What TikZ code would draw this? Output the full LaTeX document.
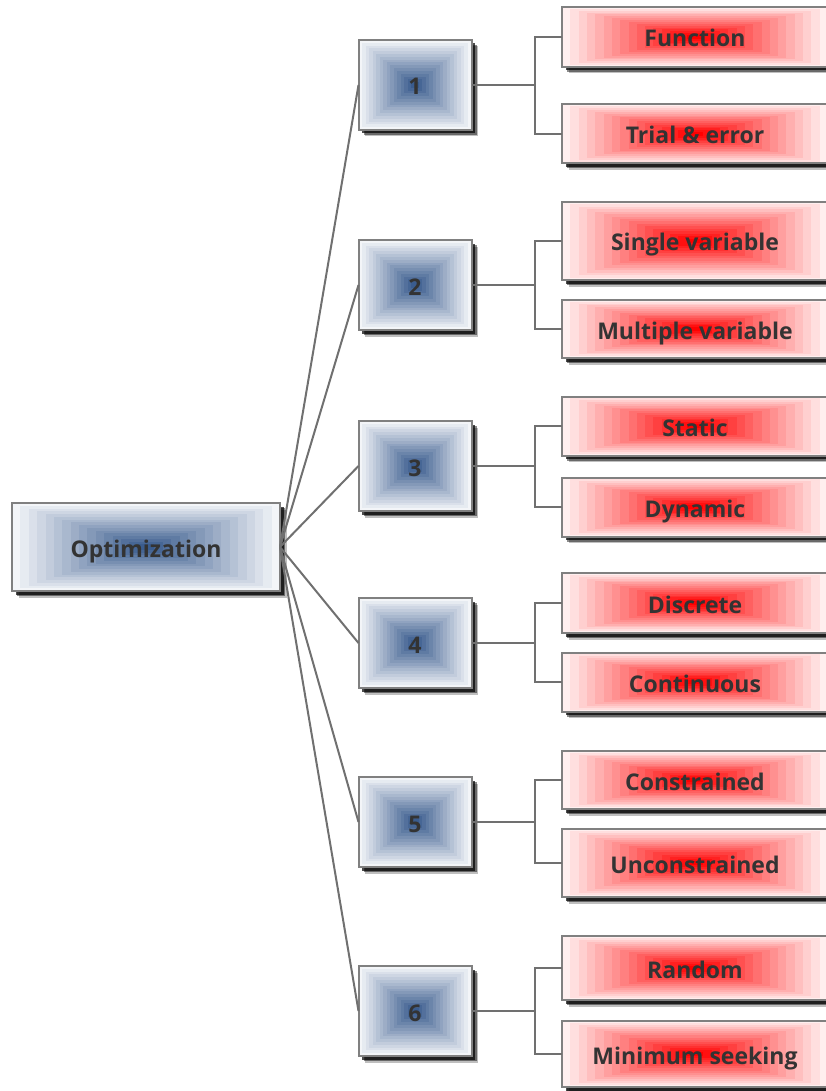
\documentclass[tikz,border=0pt]{standalone}
\usepackage{fontspec}
\setmainfont{Open Sans}
\usetikzlibrary{calc,shadows}

\definecolor{edgegray}{RGB}{128,128,128}
\definecolor{linegray}{RGB}{112,112,112}
\definecolor{txt}{RGB}{51,51,51}
\definecolor{steel}{RGB}{58,92,142}
\definecolor{hotred}{RGB}{255,0,0}

\tikzset{
  % nested rectangles, light at the rim and saturated in the middle
  ringfill/.style={path picture={
    \foreach \i in {0,...,15}{
      \pgfmathsetmacro\ringpct{100*(\i+1)/16}
      \fill[#1!\ringpct!white]
        ($(path picture bounding box.south west)!{\i/32}!(path picture bounding box.north east)$)
        rectangle
        ($(path picture bounding box.north east)!{\i/32}!(path picture bounding box.south west)$);
    }}},
  boxshadow/.style={
    drop shadow={shadow xshift=6.5pt, shadow yshift=-6.5pt, fill=black, opacity=0.25},
    drop shadow={shadow xshift=5pt, shadow yshift=-5pt, fill=black, opacity=0.45},
    drop shadow={shadow xshift=3.5pt, shadow yshift=-3.5pt, fill=black, opacity=0.7}},
  basebox/.style={draw=edgegray, line width=2pt, inner sep=0pt, outer sep=0pt,
    text=txt, font=\bfseries\fontsize{23}{27}\selectfont,
    text height=20pt, text depth=0pt, boxshadow},
  hubbox/.style={basebox, ringfill=steel},
  leafbox/.style={basebox, ringfill=hotred, minimum width=266pt},
  numbox/.style={hubbox, minimum width=113pt, minimum height=90pt},
  link/.style={draw=linegray, line width=2pt},
}

\begin{document}
\begin{tikzpicture}[x=1pt, y=-1pt]
\useasboundingbox (0,0) rectangle (825,1091);

% root
\node[hubbox, minimum width=268pt, minimum height=88pt] (opt) at (146,547) {Optimization};

% numbered categories
\node[numbox] (n1) at (415,85)   {1};
\node[numbox] (n2) at (415,285)  {2};
\node[numbox] (n3) at (415,466)  {3};
\node[numbox] (n4) at (415,643)  {4};
\node[numbox] (n5) at (415,822)  {5};
\node[numbox] (n6) at (415,1011) {6};

% leaves
\node[leafbox, minimum height=60pt] (f1a) at (695,37)   {Function};
\node[leafbox, minimum height=59pt] (f1b) at (695,134)  {Trial \& error};
\node[leafbox, minimum height=78pt] (f2a) at (695,241)  {Single variable};
\node[leafbox, minimum height=58pt] (f2b) at (695,329)  {Multiple variable};
\node[leafbox, minimum height=59pt] (f3a) at (695,426)  {Static};
\node[leafbox, minimum height=59pt] (f3b) at (695,507)  {Dynamic};
\node[leafbox, minimum height=60pt] (f4a) at (695,603)  {Discrete};
\node[leafbox, minimum height=59pt] (f4b) at (695,682)  {Continuous};
\node[leafbox, minimum height=58pt] (f5a) at (695,780)  {Constrained};
\node[leafbox, minimum height=68pt] (f5b) at (695,863)  {Unconstrained};
\node[leafbox, minimum height=64pt] (f6a) at (695,968)  {Random};
\node[leafbox, minimum height=66pt] (f6b) at (695,1054) {Minimum seeking};

% root to categories
\foreach \k in {1,...,6}
  \draw[link] (opt.east) -- (n\k.west);

% categories to leaves
\foreach \k in {1,...,6}{
  \draw[link] (f\k a.west) -- ++(-27,0) |- (n\k.east);
  \draw[link] (f\k b.west) -- ++(-27,0) |- (n\k.east);
}
\end{tikzpicture}
\end{document}
